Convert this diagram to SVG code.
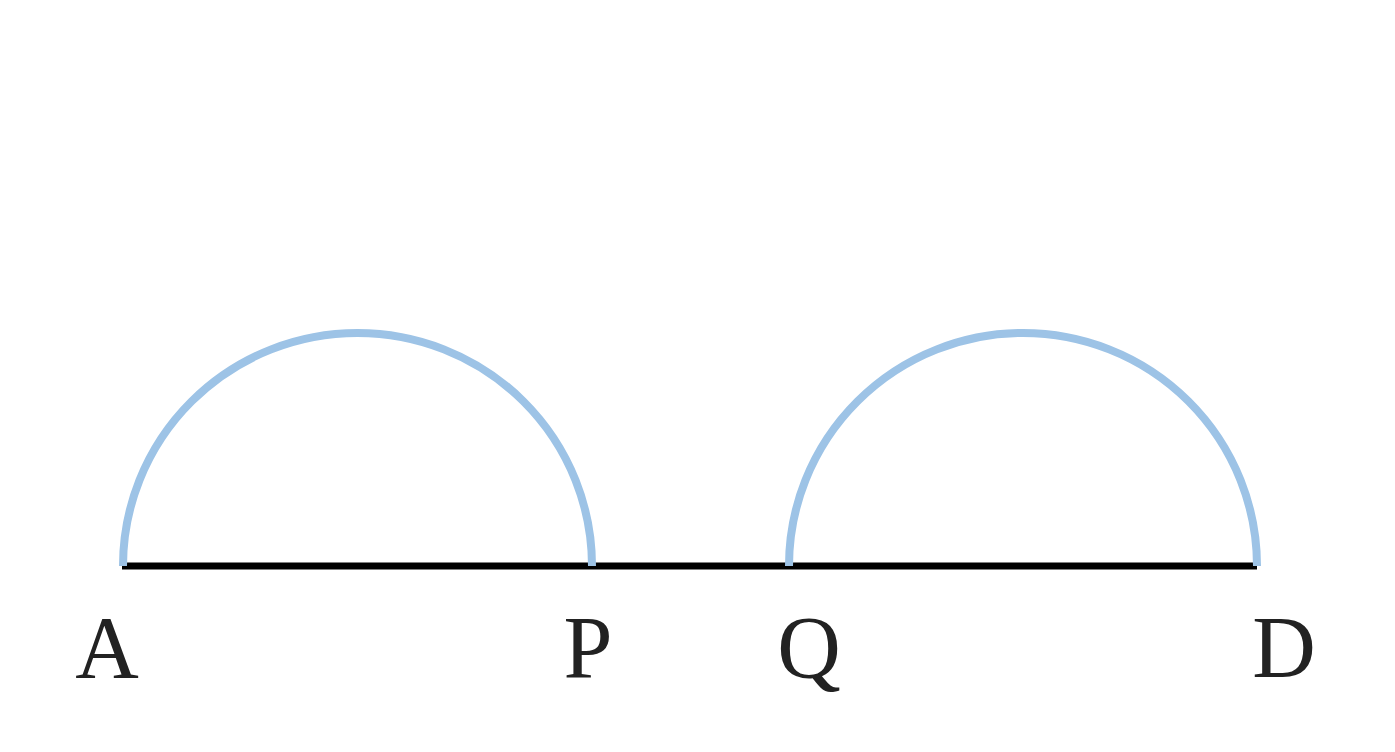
<svg xmlns="http://www.w3.org/2000/svg" width="1395" height="752" viewBox="0 0 1395 752">
<style>
.arc{fill:none;stroke:#9DC3E6;stroke-width:8}
.seg{stroke:#000;stroke-width:7}
.lbl{font-family:"Liberation Serif","DejaVu Serif",serif;font-size:88px;fill:#222;text-anchor:middle}
</style>
<rect width="1395" height="752" fill="#fff"/>
<g id="connectors">
<line class="seg" x1="122" y1="566" x2="1257" y2="566"/>
<path class="arc" d="M123 566 A234.5 233 0 0 1 592 566"/>
<path class="arc" d="M789 566 A234 233 0 0 1 1257 566"/>
</g>
<g id="A"><text class="lbl" x="107" y="677">A</text></g>
<g id="P"><text class="lbl" x="588" y="677">P</text></g>
<g id="Q"><text class="lbl" x="809" y="677">Q</text></g>
<g id="D"><text class="lbl" x="1284" y="677">D</text></g>
</svg>
